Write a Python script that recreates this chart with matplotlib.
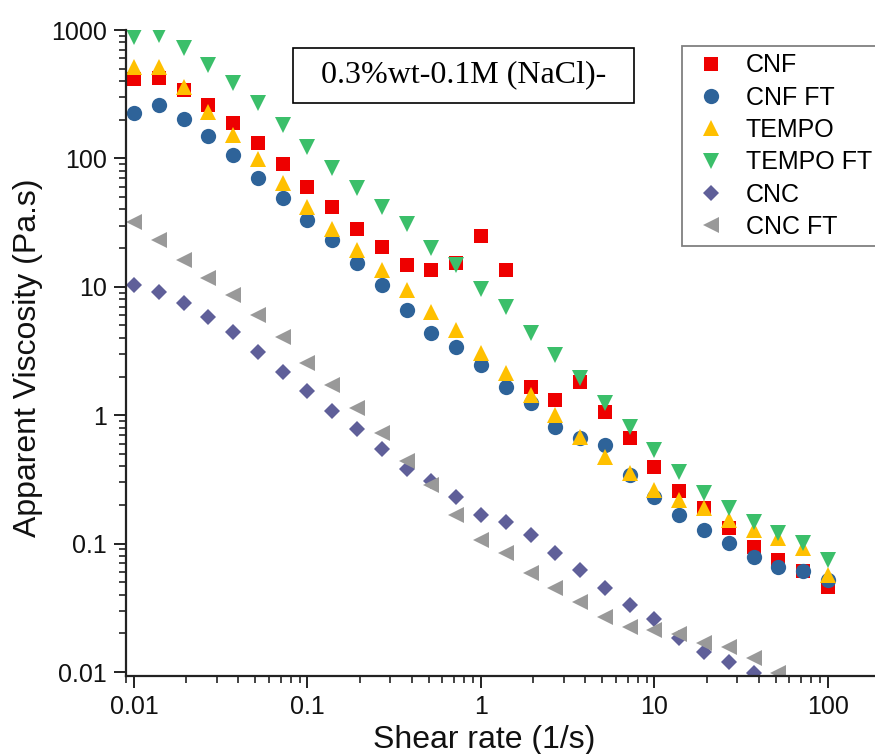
import matplotlib
matplotlib.use("Agg")
import matplotlib.pyplot as plt
from matplotlib.patches import Rectangle
from matplotlib.ticker import LogLocator, FuncFormatter, NullFormatter

plt.rcParams['font.family'] = ['Liberation Sans', 'DejaVu Sans']

# ---- data ----
shear_rate = [0.01, 0.0139, 0.0193, 0.0268, 0.0373, 0.0518, 0.072, 0.1, 0.139, 0.193,
              0.268, 0.373, 0.518, 0.72, 1.0, 1.39, 1.93, 2.68, 3.73, 5.18,
              7.2, 10, 13.9, 19.3, 26.8, 37.3, 51.8, 72, 100]

cnf = [415, 420, 340, 260, 190, 132, 90, 60, 41.7, 28,
       20.4, 14.8, 13.5, 15.3, 25, 13.4, 1.66, 1.31, 1.82, 1.06,
       0.66, 0.395, 0.257, 0.19, 0.132, 0.094, 0.0745, 0.061, 0.046]
cnf_ft = [226, 261, 203, 149, 106, 70, 49, 33, 23, 15.3,
          10.3, 6.6, 4.37, 3.4, 2.46, 1.66, 1.24, 0.81, 0.66, 0.586,
          0.342, 0.23, 0.167, 0.128, 0.101, 0.079, 0.066, 0.061, 0.052]
tempo = [515, 515, 360, 230, 152, 99, 64, 41.7, 28, 19.4,
         13.5, 9.4, 6.4, 4.6, 3.05, 2.14, 1.44, 1.0, 0.676, 0.473,
         0.355, 0.26, 0.22, 0.19, 0.153, 0.128, 0.11, 0.092, 0.057]
tempo_ft = [882, 915, 724, 533, 386, 269, 182, 123, 84, 59,
            42, 31, 20, 14.8, 9.6, 7.0, 4.4, 2.95, 1.95, 1.25,
            0.81, 0.537, 0.363, 0.25, 0.19, 0.148, 0.121, 0.101, 0.074]
cnc = [10.3, 9.1, 7.5, 5.8, 4.45, 3.1, 2.17, 1.55, 1.08, 0.78,
       0.546, 0.38, 0.31, 0.23, 0.167, 0.148, 0.117, 0.0845, 0.062, 0.045,
       0.033, 0.026, 0.0184, 0.0143, 0.012, 0.0098]
cnc_ft = [32, 23, 16.2, 11.7, 8.6, 6.0, 4.07, 2.55, 1.72, 1.14,
          0.73, 0.44, 0.286, 0.167, 0.107, 0.0845, 0.059, 0.045, 0.035, 0.027,
          0.0224, 0.0212, 0.0199, 0.0168, 0.0157, 0.0129, 0.0098]

series_labels = ['CNF', 'CNF FT', 'TEMPO', 'TEMPO FT', 'CNC', 'CNC FT']
series_values = [cnf, cnf_ft, tempo, tempo_ft, cnc, cnc_ft]
series_markers = ['s', 'o', '^', 'v', 'D', '<']
series_sizes = [10, 11, 11.5, 11.5, 8.5, 11.5]
series_colors = ['#EE0000', '#2E6399', '#FFC000', '#3BBF6A', '#5F5F99', '#999999']

tick_values = [0.01, 0.1, 1, 10, 100, 1000]

# ---- figure ----
fig = plt.figure(figsize=(8.75, 7.54), dpi=100)
ax = fig.add_axes([126/875, 1-676/754, 749/875, 646/754])

for lab, vals, mk, ms, col in zip(series_labels, series_values, series_markers,
                                  series_sizes, series_colors):
    ax.plot(shear_rate[:len(vals)], vals, linestyle='none', marker=mk, markersize=ms,
            color=col, markeredgewidth=0, label=lab)

ax.set_xscale('log')
ax.set_yscale('log')

for s in ['top', 'right']:
    ax.spines[s].set_visible(False)
for s in ['left', 'bottom']:
    ax.spines[s].set_linewidth(1.6)
    ax.spines[s].set_color('#222222')

fmt = FuncFormatter(lambda v, p: '{:g}'.format(v))
for axis in (ax.xaxis, ax.yaxis):
    axis.set_major_locator(LogLocator(base=10, numticks=20))
    axis.set_minor_locator(LogLocator(base=10, subs=range(2, 10), numticks=100))
    axis.set_major_formatter(fmt)
    axis.set_minor_formatter(NullFormatter())
ax.set_yticks(tick_values)
ax.set_xticks(tick_values[:-1])
ax.set_xlim(10**-2.046, 10**2.271)
ax.set_ylim(10**(-2 - 4/128.4), 1000)

ax.tick_params(which='major', direction='out', length=8.5, width=1.4,
               labelsize=18, pad=5, color='#222222', labelcolor='#111111')
ax.tick_params(which='minor', direction='out', length=5, width=1.2, color='#222222')

ax.set_xlabel('Shear rate (1/s)', fontsize=23, va='center', color='#111111')
ax.xaxis.set_label_coords(0.478, -0.099)
ax.set_ylabel('Apparent Viscosity (Pa.s)', fontsize=23, va='center', color='#111111')
ax.yaxis.set_label_coords(-0.131, 0.492)

# annotation box
fig.add_artist(Rectangle((293/875, 1-103/754), 341/875, 55/754, transform=fig.transFigure,
                         fill=False, edgecolor='black', linewidth=1.2))
fig.text(463.5/875, 1-75/754, '0.3%wt-0.1M (NaCl)-', family=['Liberation Serif', 'DejaVu Serif'],
         fontsize=23, ha='center', va='center')

leg = ax.legend(loc='upper left', bbox_to_anchor=(682/875, 1-46/754),
                bbox_transform=fig.transFigure, fontsize=18, frameon=True,
                fancybox=False, edgecolor='#808080', framealpha=1,
                borderpad=0.3, labelspacing=0.33, handlelength=1.7,
                handletextpad=0.55, borderaxespad=0)
leg.get_frame().set_linewidth(1.3)

fig.savefig('out.png', dpi=100)
